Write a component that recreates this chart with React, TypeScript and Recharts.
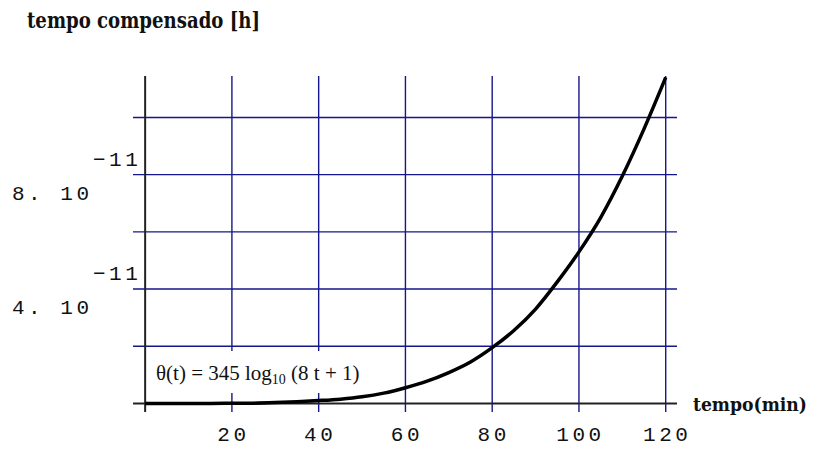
import React from 'react';
import { LineChart, Line, XAxis, YAxis, ReferenceLine } from 'recharts';

// tempo (min) vs tempo compensado, values in units of 1e-11 h
const tempoMin = [0, 5, 10, 15, 20, 25, 30, 35, 40, 45, 50, 55, 60, 65, 70, 75, 80, 85, 90, 95, 100, 105, 110, 115, 120];
const compensadoE11 = [0, 0, 0, 0, 0.005, 0.01, 0.03, 0.06, 0.1, 0.15, 0.23, 0.36, 0.55, 0.78, 1.08, 1.45, 1.95, 2.55, 3.3, 4.25, 5.3, 6.5, 7.95, 9.6, 11.4];

const xTicks = [20, 40, 60, 80, 100, 120];
const yTicks = [2, 4, 6, 8, 10];
const yLabelled = [4, 8];

const data = tempoMin.map((t, i) => ({ t, v: compensadoE11[i] }));

const GRID = '#16168c';
const MONO = '"Liberation Mono", "DejaVu Sans Mono", monospace';
const HEAD = '"DejaVu Serif", serif';

function XTick({ x, y, payload }: any) {
  return (
    <text x={x} y={y + 29} dx={1.5} textAnchor="middle" fontFamily={MONO} fontSize={21} letterSpacing={3.5} fill="#111">
      {payload.value}
    </text>
  );
}

function YTick({ x, y, payload }: any) {
  if (!yLabelled.includes(payload.value)) return <g />;
  return (
    <g fontFamily={MONO} fontSize={21} letterSpacing={3.5} fill="#111">
      <text x={x - 121} y={y + 25}>{`${payload.value}. 10`}</text>
      <text x={x - 40} y={y - 9}>−11</text>
    </g>
  );
}

function Overlay() {
  return (
    <svg width={817} height={450} style={{ position: 'absolute', left: 0, top: 0, pointerEvents: 'none' }}>
      <text x={27} y={28} fontFamily={HEAD} fontWeight="bold" fontSize={22} textLength={233} lengthAdjust="spacingAndGlyphs" fill="#111">
        tempo compensado [h]
      </text>
      <text x={693} y={411} fontFamily={HEAD} fontWeight="bold" fontStretch="condensed" fontSize={18} textLength={114} lengthAdjust="spacingAndGlyphs" fill="#111">
        tempo(min)
      </text>
      <rect x={147.5} y={351} width={218} height={42} fill="#fff" />
      <text x={156} y={380} fontFamily='"Liberation Serif", "Times New Roman", serif' fontSize={21} fill="#111">
        θ(t) = 345 log<tspan fontSize={14} dy={4}>10</tspan><tspan dy={-4}> (8 t + 1)</tspan>
      </text>
    </svg>
  );
}

export default function App() {
  return (
    <div style={{ position: 'absolute', left: 0, top: 0, width: 817, height: 450, background: '#fff' }}>
      <LineChart width={817} height={450} data={data} margin={{ top: 76, right: 140, bottom: 0, left: 0 }}>
        <XAxis
          dataKey="t"
          type="number"
          domain={[-2.8, 122.6]}
          ticks={xTicks}
          allowDataOverflow
          axisLine={false}
          tickLine={false}
          tickSize={0}
          tickMargin={0}
          height={38}
          tick={<XTick />}
        />
        <YAxis
          type="number"
          domain={[-0.3, 11.45]}
          ticks={yTicks}
          allowDataOverflow
          axisLine={false}
          tickLine={false}
          tickSize={0}
          tickMargin={0}
          width={133}
          tick={<YTick />}
        />
        {xTicks.map(v => (
          <ReferenceLine key={'gx' + v} x={v} stroke={GRID} strokeWidth={1.4} />
        ))}
        {yTicks.map(v => (
          <ReferenceLine key={'gy' + v} y={v} stroke={GRID} strokeWidth={1.4} />
        ))}
        <ReferenceLine y={0} stroke="#222" strokeWidth={2} />
        <ReferenceLine x={0} stroke="#222" strokeWidth={2} />
        <Line type="monotone" dataKey="v" stroke="#000" strokeWidth={3.5} dot={false} isAnimationActive={false} />
      </LineChart>
      <Overlay />
    </div>
  );
}
